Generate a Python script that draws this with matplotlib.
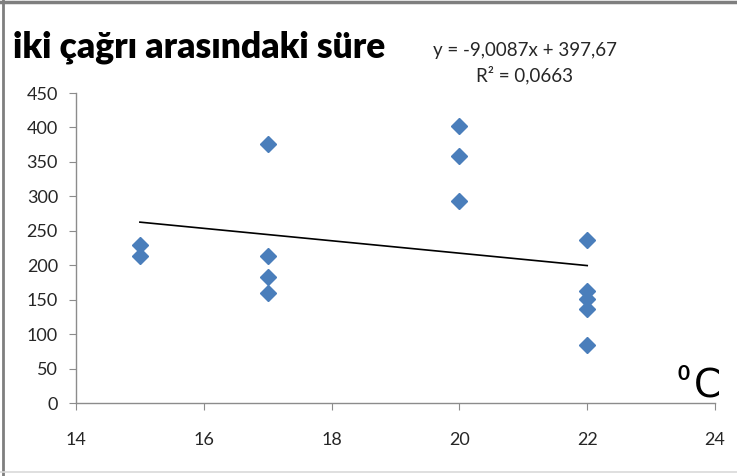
import matplotlib
matplotlib.use("Agg")
import matplotlib.pyplot as plt
from matplotlib.lines import Line2D
import numpy as np

# Data
temperature = [15, 15, 17, 17, 17, 17, 20, 20, 20, 22, 22, 22, 22, 22]
duration = [230, 214, 376, 213, 183, 160, 402, 359, 293, 237, 163, 151, 136, 84]
trend_slope = -9.0087
trend_intercept = 397.67
x_ticks = [14, 16, 18, 20, 22, 24]
y_ticks = [0, 50, 100, 150, 200, 250, 300, 350, 400, 450]
title_text = "iki çağrı arasındaki süre"
eq_text = "y = -9,0087x + 397,67"
r2_text = "R² = 0,0663"
unit_text = "C"
unit_sup = "0"

plt.rcParams['font.family'] = ['Lato', 'DejaVu Sans']

W, H = 737, 476
fig = plt.figure(figsize=(W / 100, H / 100), dpi=100)
fig.patch.set_facecolor('white')

ax = fig.add_axes([76 / W, 1 - 403 / H, (715 - 76) / W, (403 - 93) / H])
ax.set_xlim(14, 24)
ax.set_ylim(0, 450)

blue = '#4A7EBB'
ax.plot(temperature, duration, linestyle='none', marker='D', markersize=8.5,
        color=blue, markeredgecolor=blue, zorder=3)

tx = np.array([min(temperature), max(temperature)])
ax.plot(tx, trend_slope * tx + trend_intercept, color='black', lw=1.2, zorder=2)

ax.set_xticks(x_ticks)
ax.set_yticks(y_ticks)
for s in ['top', 'right']:
    ax.spines[s].set_visible(False)
for s in ['left', 'bottom']:
    ax.spines[s].set_color('#8C8C8C')
    ax.spines[s].set_linewidth(1.0)
ax.tick_params(axis='both', direction='out', length=5, color='#8C8C8C',
               labelsize=13, labelcolor='#262626')
ax.tick_params(axis='x', pad=16)
ax.tick_params(axis='y', pad=8)

# Title and annotations
fig.text(13 / W, 1 - 58 / H, title_text, fontsize=25.5, fontweight='heavy',
         color='black', ha='left', va='baseline')
fig.text(525 / W, 1 - 56 / H, eq_text, fontsize=13.5, color='#262626',
         ha='center', va='baseline')
fig.text(525 / W, 1 - 81 / H, r2_text, fontsize=13.5, color='#262626',
         ha='center', va='baseline')
fig.text(678 / W, 1 - 380 / H, unit_sup, fontsize=15, color='black',
         ha='left', va='baseline', fontweight='bold')
fig.text(694 / W, 1 - 397 / H, unit_text, fontsize=28, color='black',
         ha='left', va='baseline', family='DejaVu Sans')

# Frame lines
fig.add_artist(Line2D([0, 1], [1 - 1.5 / H, 1 - 1.5 / H], color='#7F7F7F', lw=2.5,
                      transform=fig.transFigure))
fig.add_artist(Line2D([3 / W, 3 / W], [0, 1], color='#7F7F7F', lw=2,
                      transform=fig.transFigure))
fig.add_artist(Line2D([0, 1], [1 - 472 / H, 1 - 472 / H], color='#D9D9D9', lw=1.2,
                      transform=fig.transFigure))

fig.savefig('out.png', dpi=100, facecolor='white')
